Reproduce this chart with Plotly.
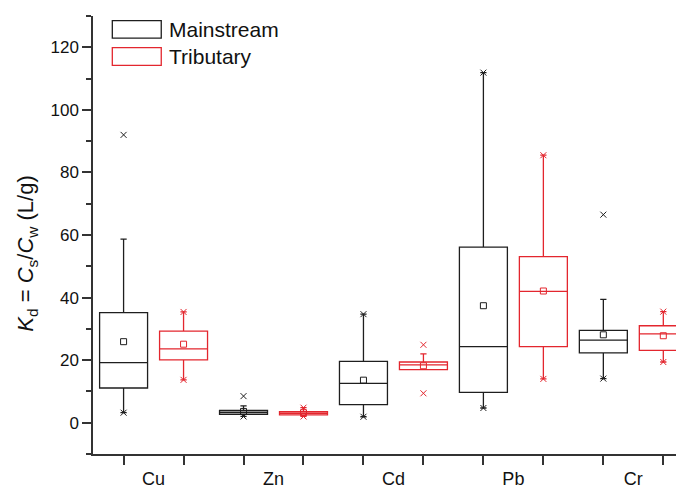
import plotly.graph_objects as go

categories = ["Cu", "Zn", "Cd", "Pb", "Cr"]

main_q1 = [11.1, 2.7, 5.8, 9.7, 22.3]
main_median = [19.2, 3.3, 12.6, 24.3, 26.4]
main_q3 = [35.2, 3.9, 19.6, 56.1, 29.5]
main_lower = [3.2, 2.0, 1.9, 4.7, 14.1]
main_upper = [58.7, 5.4, 34.7, 111.9, 39.4]
main_mean = [25.9, 3.6, 13.6, 37.4, 28.1]
main_marks = [[92.0, 3.2], [8.5, 2.0], [34.7, 1.9], [111.9, 4.7], [66.5, 14.1]]

trib_q1 = [20.1, 2.5, 17.0, 24.3, 23.1]
trib_median = [23.6, 3.0, 18.5, 42.0, 28.4]
trib_q3 = [29.3, 3.5, 19.4, 53.1, 31.0]
trib_lower = [13.7, 2.0, 17.0, 14.0, 19.4]
trib_upper = [35.4, 4.8, 22.0, 85.5, 35.5]
trib_mean = [25.1, 3.2, 18.2, 42.1, 27.8]
trib_marks = [[35.4, 13.7], [4.8, 2.0], [24.9, 9.4], [85.5, 14.0], [35.5, 19.4]]

y_ticks = [0, 20, 40, 60, 80, 100, 120]

BLACK = "#1e1e1e"
RED = "#e3262e"
FONT = "Liberation Sans, Arial, sans-serif"

main_pos = [2 * i + 1 for i in range(len(categories))]
trib_pos = [2 * i + 2 for i in range(len(categories))]
label_pos = [2 * i + 1.5 for i in range(len(categories))]

fig = go.Figure()


def add_series(name, pos, q1, med, q3, lo, hi, mean, marks, color):
    fig.add_trace(go.Box(
        name=name, x=pos, q1=q1, median=med, q3=q3,
        lowerfence=lo, upperfence=hi,
        width=0.8, whiskerwidth=0.13,
        line=dict(color=color, width=1.3),
        fillcolor="rgba(0,0,0,0)", boxpoints=False,
        showlegend=False, hoverinfo="skip",
    ))
    fig.add_trace(go.Scatter(
        x=pos, y=mean, mode="markers", showlegend=False, hoverinfo="skip",
        marker=dict(symbol="square-open", size=6, color=color,
                    line=dict(width=1, color=color)),
    ))
    mx, my = [], []
    for p, vals in zip(pos, marks):
        for v in vals:
            mx.append(p)
            my.append(v)
    fig.add_trace(go.Scatter(
        x=mx, y=my, mode="markers", showlegend=False, hoverinfo="skip",
        marker=dict(symbol="x-thin-open", size=6, color=color,
                    line=dict(width=1, color=color)),
    ))


add_series("Mainstream", main_pos, main_q1, main_median, main_q3,
           main_lower, main_upper, main_mean, main_marks, BLACK)
add_series("Tributary", trib_pos, trib_q1, trib_median, trib_q3,
           trib_lower, trib_upper, trib_mean, trib_marks, RED)

# manual legend
legend_items = [("Mainstream", BLACK, 128.5, 122.9), ("Tributary", RED, 119.9, 114.2)]
for name, color, y1, y0 in legend_items:
    fig.add_shape(type="rect", x0=0.812, x1=1.628, y0=y0, y1=y1,
                  xref="x", yref="y", line=dict(color=color, width=1.3),
                  fillcolor="rgba(0,0,0,0)")
    fig.add_annotation(x=1.73, y=(y0 + y1) / 2, xref="x", yref="y",
                       text=name, showarrow=False, xanchor="left", yanchor="middle",
                       font=dict(size=21, color="#111", family=FONT))

# y-axis title
fig.add_annotation(
    x=-0.112, y=0.457, xref="paper", yref="paper", textangle=-90,
    text="<i>K</i><sub>d</sub> = <i>C</i><sub>s</sub>/<i>C</i><sub>w</sub> (L/g)",
    showarrow=False, xanchor="center", yanchor="middle",
    font=dict(size=22, family=FONT, color="#111"),
)

# page body has an 8px margin: figure is placed at (8, 8) in the window
fig.update_layout(
    width=676, height=477,
    margin=dict(l=85, r=0, t=8, b=31),
    paper_bgcolor="white", plot_bgcolor="white",
    font=dict(family=FONT, color="#111"),
    boxmode="overlay",
)

fig.update_xaxes(
    range=[0.49, 10.345], showgrid=False, zeroline=False, automargin=False,
    showline=True, linecolor="#333", linewidth=1.5,
    tickmode="array", tickvals=label_pos, ticktext=categories,
    ticks="outside", ticklen=8, tickcolor="rgba(0,0,0,0)",
    tickfont=dict(size=18, family=FONT, color="#111"),
    minor=dict(tickvals=main_pos + trib_pos, ticks="outside", ticklen=9,
               tickwidth=1.5, tickcolor="#333"),
)

fig.update_yaxes(
    range=[-10, 130], showgrid=False, zeroline=False, automargin=False,
    showline=True, linecolor="#333", linewidth=1.5,
    tickmode="array", tickvals=y_ticks,
    ticks="outside", ticklen=9, tickwidth=1.5, tickcolor="#333",
    tickfont=dict(size=17, family=FONT, color="#111"),
    minor=dict(dtick=10, tick0=0, ticks="outside", ticklen=5, tickwidth=1.5,
               tickcolor="#333"),
)

fig.write_html("out.html")
